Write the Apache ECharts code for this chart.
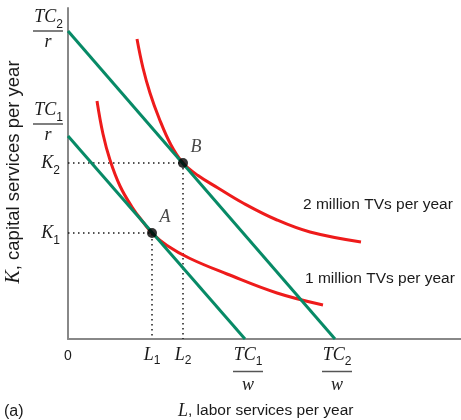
<!DOCTYPE html>
<html><head><meta charset="utf-8">
<script src="https://cdn.jsdelivr.net/npm/echarts@6/dist/echarts.min.js"></script>
<style>html,body{margin:0;padding:0;background:#fff}#c{width:461px;height:420px}</style>
</head><body><div id="c"></div>
<script>
// ---- data (units: arbitrary) ----
const isocost1 = [[0, 203], [177, 0]];          // TC1 line
const isocost2 = [[0, 308], [267, 0]];          // TC2 line
const isoquant1 = [[29, 238], [35, 205], [42, 179], [52, 153], [64, 132], [75, 117], [84, 106], [99, 93.5], [122, 80.5], [159, 65], [209, 46], [255, 34]];
const isoquant2 = [[69, 300], [75, 271], [82, 246], [91, 221], [103, 194], [115, 176], [130, 163.5], [150, 151], [175, 136], [209, 119], [242, 107], [293, 97]];
const optimumNames = ['A', 'B'];
const optimumL = [84, 115];
const optimumK = [106, 176];
const isoquantNames = ['1 million TVs per year', '2 million TVs per year'];

const xTickValues = [0, 84, 115, 180, 269];
const xTickMain = ['0', 'L', 'L', 'TC', 'TC'];
const xTickSub = ['', '1', '2', '1', '2'];
const xTickDen = ['', '', '', 'w', 'w'];

const yTickValues = [104.5, 174.5, 216, 309];
const yTickMain = ['K', 'K', 'TC', 'TC'];
const yTickSub = ['1', '2', '1', '2'];
const yTickDen = ['', '', 'r', 'r'];

const INK = '#1a1a1a';
const GREEN = '#078a66';
const RED = '#ee1b1b';

const serifIt = {fontFamily: 'Liberation Serif', fontStyle: 'italic', color: INK};
const richY = {
  num: Object.assign({fontSize: 18, lineHeight: 20, verticalAlign: 'top'}, serifIt),
  sub: {fontFamily: 'Liberation Sans', fontSize: 12, lineHeight: 12, padding: [12, 0, 0, 0], color: INK},
  subK: {fontFamily: 'Liberation Sans', fontSize: 12, lineHeight: 12, padding: [12, 3, 0, 0], color: INK},
  bar: {width: 30, height: 1.5, lineHeight: 5, fontSize: 1, backgroundColor: '#555'},
  den: Object.assign({fontSize: 18, lineHeight: 18, width: 30, align: 'center'}, serifIt)
};
const richX = {
  num: Object.assign({fontSize: 18, lineHeight: 20, verticalAlign: 'top'}, serifIt),
  sub: {fontFamily: 'Liberation Sans', fontSize: 12, lineHeight: 12, padding: [12, 0, 0, 0], color: INK},
  lm: Object.assign({fontSize: 18, lineHeight: 20, verticalAlign: 'top'}, serifIt),
  subL: {fontFamily: 'Liberation Sans', fontSize: 12, lineHeight: 12, padding: [10, 0, 0, 0], color: INK},
  bar: {width: 30, height: 1.5, lineHeight: 11, fontSize: 1, backgroundColor: '#555'},
  den: Object.assign({fontSize: 18, lineHeight: 16, width: 30, align: 'center'}, serifIt),
  zero: {fontFamily: 'Liberation Sans', fontSize: 14, lineHeight: 20, color: INK}
};

function tickLabel(main, sub, den, isY) {
  if (main === '0') return '{zero|0}';
  if (den) return '{num|' + main + '}{sub|' + sub + '}\n{bar| }\n{den|' + den + '}';
  if (isY) return '{num|' + main + '}{subK|' + sub + '}';
  return '{lm|' + main + '}{subL|' + sub + '}';
}

const guideSeries = optimumNames.map((n, i) => ({
  type: 'line', silent: true, symbol: 'none', z: 1,
  data: [[0, optimumK[i]], [optimumL[i], optimumK[i]], [optimumL[i], 0]],
  lineStyle: {color: INK, width: 1.5, type: [1.5, 3.5]}
}));

const chart = echarts.init(document.getElementById('c'), null, {renderer: 'canvas'});
chart.setOption({
  animation: false,
  backgroundColor: '#fff',
  grid: {left: 68, right: 0, top: 8, bottom: 81},
  xAxis: {
    type: 'value', min: 0, max: 393,
    splitLine: {show: false}, axisTick: {show: false},
    axisLine: {show: true, onZero: false, lineStyle: {color: '#888', width: 2}},
    axisLabel: {
      customValues: xTickValues, margin: 7, rich: richX,
      formatter: v => { const i = xTickValues.indexOf(v); return i < 0 ? '' : tickLabel(xTickMain[i], xTickSub[i], xTickDen[i], false); }
    }
  },
  yAxis: {
    type: 'value', min: 0, max: 331,
    splitLine: {show: false}, axisTick: {show: false},
    axisLine: {show: true, onZero: false, lineStyle: {color: '#888', width: 2}},
    axisLabel: {
      customValues: yTickValues, margin: 5, rich: richY,
      formatter: v => { const i = yTickValues.indexOf(v); return i < 0 ? '' : tickLabel(yTickMain[i], yTickSub[i], yTickDen[i], true); }
    }
  },
  series: guideSeries.concat([
    {type: 'line', name: isoquantNames[0], data: isoquant1, smooth: 0.4, symbol: 'none', z: 2,
     lineStyle: {color: RED, width: 3}},
    {type: 'line', name: isoquantNames[1], data: isoquant2, smooth: 0.4, symbol: 'none', z: 2,
     lineStyle: {color: RED, width: 3}},
    {type: 'line', data: isocost1, symbol: 'none', z: 3, lineStyle: {color: GREEN, width: 3}},
    {type: 'line', data: isocost2, symbol: 'none', z: 3, lineStyle: {color: GREEN, width: 3}},
    {type: 'scatter', z: 5, symbolSize: 10, itemStyle: {color: '#000'},
     data: optimumNames.map((n, i) => ({name: n, value: [optimumL[i], optimumK[i]]})),
     label: {show: true, formatter: p => p.name, position: 'inside', offset: [13, -16],
       fontFamily: 'Liberation Serif', fontStyle: 'italic', fontSize: 18, color: INK}}
  ]),
  graphic: [
    {type: 'text', left: 303, top: 197, style: {text: isoquantNames[1], fontFamily: 'Liberation Sans', fontSize: 15.5, fill: INK}},
    {type: 'text', left: 305, top: 271, style: {text: isoquantNames[0], fontFamily: 'Liberation Sans', fontSize: 15.5, fill: INK}},
    {type: 'text', left: 4, top: 404, style: {text: '(a)', fontFamily: 'Liberation Sans', fontSize: 16, fill: INK}},
    {type: 'text', left: 178, top: 402, style: {
      text: '{i|L}{s|, labor services per year}',
      rich: {i: {fontFamily: 'Liberation Serif', fontStyle: 'italic', fontSize: 18, fill: INK},
             s: {fontFamily: 'Liberation Sans', fontSize: 15.5, fill: INK}}}},
    {type: 'text', x: 14, y: 172, rotation: Math.PI / 2, style: {
      text: '{i|K}{s|, capital services per year}', align: 'center', verticalAlign: 'middle',
      rich: {i: {fontFamily: 'Liberation Serif', fontStyle: 'italic', fontSize: 20, fill: INK},
             s: {fontFamily: 'Liberation Sans', fontSize: 18.5, fill: INK}}}}
  ]
});
</script></body></html>
